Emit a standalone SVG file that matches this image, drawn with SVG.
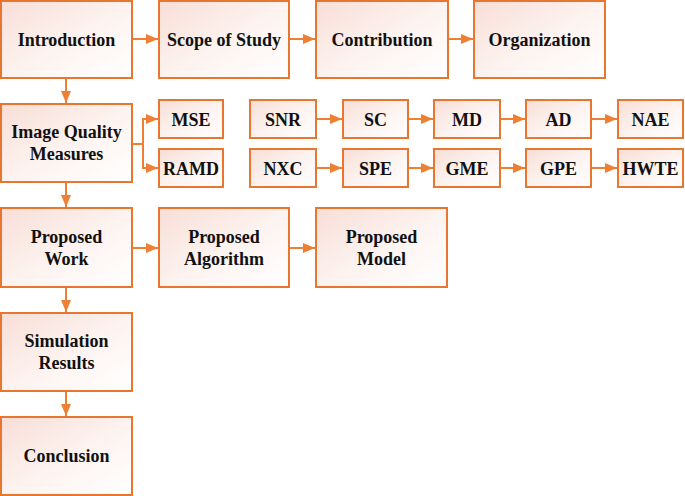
<svg xmlns="http://www.w3.org/2000/svg" width="685" height="496" viewBox="0 0 685 496">
<defs>
<linearGradient id="g" x1="0" y1="0" x2="1" y2="1">
<stop offset="0" stop-color="#F8DED6"/>
<stop offset="0.55" stop-color="#FDF4F1"/>
<stop offset="1" stop-color="#FFFFFF"/>
</linearGradient>
<marker id="ah" markerWidth="12" markerHeight="10" refX="12" refY="5" orient="auto" markerUnits="userSpaceOnUse">
<path d="M0,0 L12,5 L0,10 Z" fill="#EE7F33"/>
</marker>
<style>
rect{fill:url(#g);stroke:#E9762E;stroke-width:2}
text{font-family:"Liberation Serif","Times New Roman",serif;font-weight:bold;font-size:18px;fill:#111;text-anchor:middle}
.c path,.c line{stroke:#EE7F33;stroke-width:2;fill:none}
</style>
</defs>
<g class="c">
<line x1="132" y1="39" x2="158" y2="39" marker-end="url(#ah)"/>
<line x1="289" y1="39" x2="315" y2="39" marker-end="url(#ah)"/>
<line x1="448" y1="39" x2="473" y2="39" marker-end="url(#ah)"/>
<line x1="66" y1="79" x2="66" y2="103" marker-end="url(#ah)"/>
<path d="M132,144 H143 V119 H158" marker-end="url(#ah)"/>
<path d="M143,144 V168 H158" marker-end="url(#ah)"/>
<line x1="316" y1="119" x2="342" y2="119" marker-end="url(#ah)"/>
<line x1="408" y1="119" x2="433" y2="119" marker-end="url(#ah)"/>
<line x1="500" y1="119" x2="525" y2="119" marker-end="url(#ah)"/>
<line x1="591" y1="119" x2="617" y2="119" marker-end="url(#ah)"/>
<line x1="316" y1="168" x2="342" y2="168" marker-end="url(#ah)"/>
<line x1="408" y1="168" x2="433" y2="168" marker-end="url(#ah)"/>
<line x1="500" y1="168" x2="525" y2="168" marker-end="url(#ah)"/>
<line x1="591" y1="168" x2="617" y2="168" marker-end="url(#ah)"/>
<line x1="66" y1="182" x2="66" y2="207" marker-end="url(#ah)"/>
<line x1="132" y1="248" x2="158" y2="248" marker-end="url(#ah)"/>
<line x1="289" y1="248" x2="315" y2="248" marker-end="url(#ah)"/>
<line x1="66" y1="287" x2="66" y2="312" marker-end="url(#ah)"/>
<line x1="66" y1="391" x2="66" y2="416" marker-end="url(#ah)"/>
</g>
<g id="introduction"><rect x="1" y="1" width="131" height="77"/><text x="66.5" y="45.5">Introduction</text></g>
<g id="scope"><rect x="159" y="1" width="130" height="77"/><text x="224" y="45.5">Scope of Study</text></g>
<g id="contribution"><rect x="316" y="1" width="132" height="77"/><text x="382" y="45.5">Contribution</text></g>
<g id="organization"><rect x="474" y="1" width="131" height="77"/><text x="539.5" y="45.5">Organization</text></g>
<g id="iqm"><rect x="1" y="104" width="131" height="78"/><text x="66.5" y="138">Image Quality</text><text x="66.5" y="160">Measures</text></g>
<g id="mse"><rect x="159" y="100" width="64" height="38"/><text x="191" y="125.5">MSE</text></g>
<g id="ramd"><rect x="159" y="149" width="64" height="38"/><text x="191" y="174.5">RAMD</text></g>
<g id="snr"><rect x="250" y="100" width="66" height="38"/><text x="283" y="125.5">SNR</text></g>
<g id="sc"><rect x="343" y="100" width="65" height="38"/><text x="375.5" y="125.5">SC</text></g>
<g id="md"><rect x="434" y="100" width="66" height="38"/><text x="467" y="125.5">MD</text></g>
<g id="ad"><rect x="526" y="100" width="65" height="38"/><text x="558.5" y="125.5">AD</text></g>
<g id="nae"><rect x="618" y="100" width="65" height="38"/><text x="650.5" y="125.5">NAE</text></g>
<g id="nxc"><rect x="250" y="149" width="66" height="38"/><text x="283" y="174.5">NXC</text></g>
<g id="spe"><rect x="343" y="149" width="65" height="38"/><text x="375.5" y="174.5">SPE</text></g>
<g id="gme"><rect x="434" y="149" width="66" height="38"/><text x="467" y="174.5">GME</text></g>
<g id="gpe"><rect x="526" y="149" width="65" height="38"/><text x="558.5" y="174.5">GPE</text></g>
<g id="hwte"><rect x="618" y="149" width="65" height="38"/><text x="650.5" y="174.5">HWTE</text></g>
<g id="work"><rect x="1" y="208" width="131" height="79"/><text x="66.5" y="243">Proposed</text><text x="66.5" y="265">Work</text></g>
<g id="algorithm"><rect x="159" y="208" width="130" height="79"/><text x="224" y="243">Proposed</text><text x="224" y="265">Algorithm</text></g>
<g id="model"><rect x="316" y="208" width="131" height="79"/><text x="381.5" y="243">Proposed</text><text x="381.5" y="265">Model</text></g>
<g id="simulation"><rect x="1" y="313" width="131" height="78"/><text x="66.5" y="347">Simulation</text><text x="66.5" y="369">Results</text></g>
<g id="conclusion"><rect x="1" y="417" width="131" height="78"/><text x="66.5" y="462">Conclusion</text></g>
</svg>
